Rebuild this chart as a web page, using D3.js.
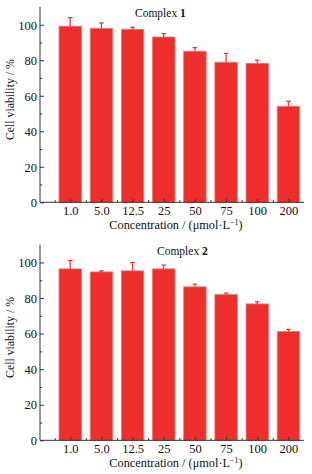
<!DOCTYPE html>
<html><head><meta charset="utf-8">
<script src="https://cdn.jsdelivr.net/npm/d3@7"></script>
<style>body{margin:0;background:#fff}svg{display:block}</style>
</head><body>
<svg id="c" width="312" height="474"></svg>
<script>
const categories = ["1.0","5.0","12.5","25","50","75","100","200"];
const complex1 = [99.2, 98.0, 97.5, 93.1, 85.1, 78.9, 78.3, 54.1];
const complex1Err = [4.8, 3.0, 1.1, 1.9, 2.0, 5.0, 1.7, 2.8];
const complex2 = [96.4, 94.7, 95.3, 96.4, 86.3, 82.0, 76.7, 61.2];
const complex2Err = [4.7, 0.6, 4.7, 2.1, 1.5, 0.8, 1.2, 1.2];
const yTicks = [0, 20, 40, 60, 80, 100];
const yMinor = [10, 30, 50, 70, 90];
const titles = ["Complex ", "Complex "];
const titleNums = ["1", "2"];

const svg = d3.select("#c");
const font = "'Liberation Serif', 'DejaVu Serif', serif";
const fill = "#ee2d2d", edge = "#f47676", axisCol = "#333";

const panels = [
  {vals: complex1, err: complex1Err, top: 7, bottom: 202.3, titleX: 135, titleY: 17},
  {vals: complex2, err: complex2Err, top: 244.7, bottom: 440.3, titleX: 157, titleY: 255}
];

const x = d3.scaleLinear().domain([-0.97, 7.5]).range([40, 304]);
const step = x(1) - x(0);
const bw = step * 0.72;

panels.forEach((p, pi) => {
  const y = d3.scaleLinear().domain([0, 110]).range([p.bottom, p.top]);
  const g = svg.append("g");

  // bars
  g.selectAll("rect.bar").data(p.vals).join("rect")
    .attr("x", (d, i) => x(i) - bw / 2)
    .attr("y", d => y(d))
    .attr("width", bw)
    .attr("height", d => y(0) - y(d))
    .attr("fill", fill).attr("stroke", edge).attr("stroke-width", 0.8);

  // error bars
  const eg = g.selectAll("g.err").data(p.vals).join("g");
  eg.append("line")
    .attr("x1", (d, i) => x(i)).attr("x2", (d, i) => x(i))
    .attr("y1", d => y(d)).attr("y2", (d, i) => y(d + p.err[i]))
    .attr("stroke", fill).attr("stroke-width", 1.2);
  eg.append("line")
    .attr("x1", (d, i) => x(i) - 2.3).attr("x2", (d, i) => x(i) + 2.3)
    .attr("y1", (d, i) => y(d + p.err[i])).attr("y2", (d, i) => y(d + p.err[i]))
    .attr("stroke", fill).attr("stroke-width", 1.2);

  // y axis
  const ya = g.append("g").attr("transform", `translate(${x(-0.97)},0)`)
    .call(d3.axisLeft(y).tickValues(yTicks).tickSize(-4).tickPadding(3).tickSizeOuter(0));
  const yb = g.append("g").attr("transform", `translate(${x(-0.97)},0)`)
    .call(d3.axisLeft(y).tickValues(yMinor).tickSize(-2.2).tickFormat("").tickSizeOuter(0));
  yb.select(".domain").remove();
  // extend domain to top
  ya.select(".domain").attr("d", `M0,${p.top}V${p.bottom}`);

  // x axis
  const xa = g.append("g").attr("transform", `translate(0,${p.bottom})`)
    .call(d3.axisBottom(x).tickValues(d3.range(categories.length))
      .tickFormat(i => categories[i]).tickSize(-3.5).tickPadding(3).tickSizeOuter(0));
  xa.select(".domain").attr("d", `M${x(-0.97)},0H${x(7.5)}`);
  const xb = g.append("g").attr("transform", `translate(0,${p.bottom})`)
    .call(d3.axisBottom(x).tickValues(d3.range(-0.5, 7.5, 1)).tickSize(-2.2).tickFormat("").tickSizeOuter(0));
  xb.select(".domain").remove();

  [ya, yb, xa, xb].forEach(a => {
    a.selectAll("path,line").attr("stroke", axisCol).attr("stroke-width", 1);
    a.selectAll("text").attr("font-family", font).attr("font-size", 12.5).attr("fill", "#111");
  });
  xa.selectAll("text").attr("dy", "0.78em");
  ya.selectAll("text").attr("dy", "0.34em");

  // title
  const t = g.append("text").attr("x", p.titleX).attr("y", p.titleY)
    .attr("font-family", font).attr("font-size", 11.5).attr("fill", "#111");
  t.append("tspan").text(titles[pi]);
  t.append("tspan").attr("font-weight", "bold").text(titleNums[pi]);

  // y label
  const cy = (p.top + p.bottom) / 2 - 5;
  g.append("text").attr("transform", `translate(14,${cy}) rotate(-90)`)
    .attr("text-anchor", "middle").attr("font-family", font).attr("font-size", 11.8).attr("fill", "#111")
    .text("Cell viability / %");

  // x label
  const xl = g.append("text").attr("x", 176).attr("y", p.bottom + 27)
    .attr("text-anchor", "middle").attr("font-family", font).attr("font-size", 12.3).attr("fill", "#111");
  xl.append("tspan").text("Concentration / (μmol·L");
  xl.append("tspan").attr("font-size", 8).attr("dy", -4.5).text("−1");
  xl.append("tspan").attr("dy", 4.5).text(")");
});
</script>
</body></html>
